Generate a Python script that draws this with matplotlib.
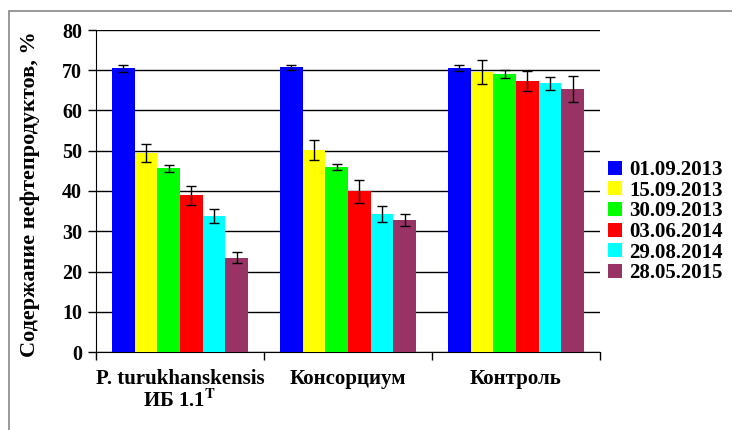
import matplotlib
matplotlib.use("Agg")
import matplotlib.pyplot as plt
import numpy as np
from matplotlib.patches import Rectangle

plt.rcParams['font.family'] = ['Liberation Serif', 'DejaVu Serif']
plt.rcParams['font.weight'] = 'bold'
plt.rcParams['mathtext.fontset'] = 'stix'

categories = ["P. turukhanskensis\nИБ 1.1$^{\\mathbf{T}}$", "Консорциум", "Контроль"]
series = ["01.09.2013", "15.09.2013", "30.09.2013", "03.06.2014", "29.08.2014", "28.05.2015"]
colors = ["#0000FF", "#FFFF00", "#00FF00", "#FF0000", "#00FFFF", "#993366"]

values = [
    [70.5, 70.7, 70.5],
    [49.4, 50.1, 69.6],
    [45.6, 46.0, 69.1],
    [38.9, 39.9, 67.3],
    [33.8, 34.3, 66.8],
    [23.4, 32.8, 65.3],
]
errors = [
    [0.9, 0.7, 0.8],
    [2.2, 2.5, 3.0],
    [0.9, 0.8, 1.0],
    [2.3, 2.8, 2.4],
    [1.8, 1.9, 1.6],
    [1.4, 1.6, 3.3],
]
yticks = [0, 10, 20, 30, 40, 50, 60, 70, 80]

fig = plt.figure(figsize=(7.32, 4.30), dpi=100)
fig.patches.append(Rectangle((9/732, -0.1), 1.0, 1 - 11/430 + 0.1, transform=fig.transFigure,
                             fill=False, edgecolor="#888888", linewidth=1.2))
ax = fig.add_axes([96/732, 1 - 352/430, 504/732, 322/430])

n = len(series)
group_w = 0.81
w = group_w / n
x0 = np.arange(len(categories))
for j in range(n):
    xs = x0 + (1 - group_w) / 2 + w * (j + 0.5)
    ax.bar(xs, values[j], width=w, color=colors[j], edgecolor='none', label=series[j], zorder=3)
    ax.errorbar(xs, values[j], yerr=errors[j], fmt='none', ecolor='black', elinewidth=1,
                capsize=3.5, capthick=1, zorder=4)

ax.set_xlim(0, 3)
ax.set_ylim(0, 80)
ax.set_yticks(yticks)
ax.set_yticklabels([str(t) for t in yticks], fontsize=14.5, fontweight='bold')
ax.yaxis.grid(True, color='black', linewidth=1, zorder=0)
ax.set_axisbelow(True)
ax.set_xticks([0, 1, 2, 3])
ax.set_xticklabels([])
ax.set_xticks(x0 + 0.5, minor=True)
ax.set_xticklabels(categories, minor=True, fontsize=15, fontweight='bold', linespacing=1.05)
ax.tick_params(axis='x', which='minor', length=0, pad=12)
ax.tick_params(axis='x', which='major', length=6, width=1, direction='out')
ax.tick_params(axis='y', length=6, width=1, direction='out', pad=4)
for s in ['top', 'right']:
    ax.spines[s].set_visible(False)
ax.spines['left'].set_color('black')
ax.spines['bottom'].set_color('black')
ax.set_ylabel("Содержание нефтепродуктов, %", fontsize=16, fontweight='bold')
ax.yaxis.set_label_coords(-56/504, 0.49)

leg = ax.legend(loc='center left', bbox_to_anchor=(1.0, 0.405), frameon=False,
                prop={'size': 15, 'weight': 'bold'}, handlelength=0.65, handleheight=0.65,
                handletextpad=0.35, labelspacing=0.03, borderaxespad=0.0)

fig.savefig("out.png", dpi=100)
